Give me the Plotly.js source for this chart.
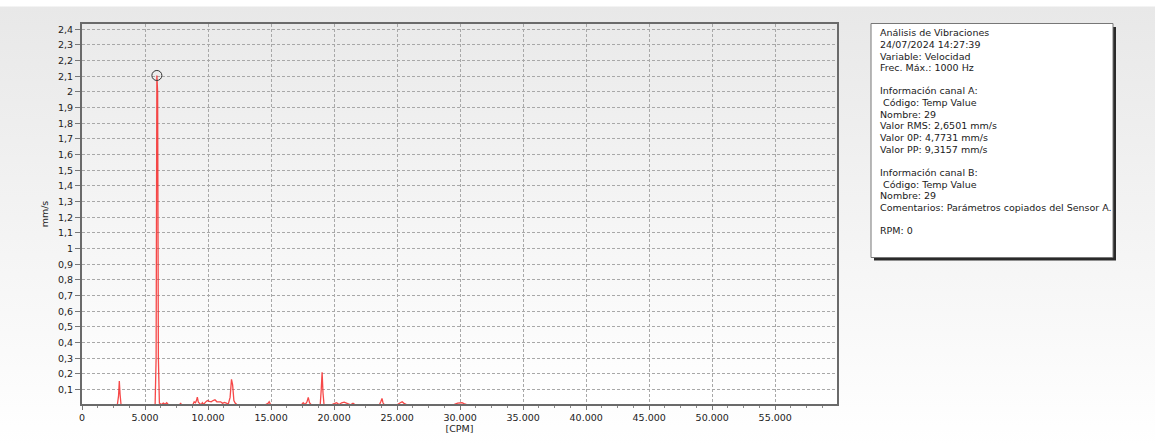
<!DOCTYPE html>
<html>
<head>
<meta charset="utf-8">
<script src="https://cdn.plot.ly/plotly-3.0.1.min.js"></script>
<style>
  html, body { margin:0; padding:0; width:1155px; height:446px; overflow:hidden; }
  body { background: linear-gradient(to bottom, #ffffff 0px, #ffffff 6px, #e8e8e8 7px, #ffffff 446px); position:relative; }
  #plotbg { position:absolute; left:82px; top:24px; width:755px; height:380px;
            background: linear-gradient(to bottom, #eaeaea, #ffffff); }
  #chart { position:absolute; left:0; top:0; width:1155px; height:446px; }
</style>
</head>
<body>
<div id="plotbg"></div>
<div id="chart"></div>
<script>
// ---- data ----
const freqCPM = [
  0, 400, 800, 1200, 1600, 2000, 2400, 2800, 2900, 2960, 3020, 3100, 3400, 3800, 4200, 4600,
  5000, 5400, 5800, 5880, 5940, 6000, 6060, 6140, 6300, 6450, 6600, 6720, 6850, 7000, 7400,
  7750, 7820, 7900, 8200, 8500, 8800, 8900, 9000, 9080, 9150, 9230, 9350, 9450, 9550, 9650,
  9800, 9950, 10100, 10250, 10400, 10550, 10700, 10850, 11000, 11150, 11300, 11450, 11600,
  11750, 11860, 11950, 12050, 12150, 12300, 12500, 13000, 13500, 14000, 14500, 14750, 14850,
  14950, 15200, 15800, 16400, 17000, 17400, 17550, 17700, 17850, 17950, 18050, 18200, 18500,
  18900, 18980, 19050, 19120, 19200, 19400, 19800, 20000, 20200, 20400, 20600, 20800, 21000,
  21300, 21500, 21700, 22200, 22700, 23200, 23600, 23720, 23800, 23880, 24000, 24500, 25000,
  25250, 25400, 25550, 25800, 26500, 27200, 28000, 28800, 29500, 29800, 30000, 30150, 30300,
  30600, 31500, 32500, 33500, 34500, 35500, 36500, 37500, 38500, 39500, 40500, 41500, 42500,
  43500, 44500, 45500, 46500, 47500, 48500, 49500, 50000
];
const velocity = [
  0.0005, 0.001, 0.0005, 0.0005, 0.001, 0.0005, 0.0005, 0.001, 0.06, 0.155, 0.07, 0.001, 0.0005, 0.001, 0.0005, 0.0005,
  0.001, 0.0005, 0.001, 0.3, 2.105, 2.0, 0.3, 0.014, 0.004, 0.014, 0.006, 0.016, 0.004, 0.001, 0.0005,
  0.001, 0.014, 0.001, 0.0005, 0.001, 0.004, 0.022, 0.016, 0.03, 0.052, 0.02, 0.006, 0.002, 0.016, 0.006,
  0.02, 0.03, 0.025, 0.022, 0.03, 0.035, 0.022, 0.02, 0.022, 0.012, 0.018, 0.014, 0.006,
  0.05, 0.165, 0.13, 0.03, 0.014, 0.004, 0.001, 0.0005, 0.001, 0.0005, 0.001, 0.012, 0.022,
  0.006, 0.001, 0.0005, 0.001, 0.0005, 0.002, 0.016, 0.004, 0.022, 0.05, 0.016, 0.002, 0.001,
  0.003, 0.1, 0.21, 0.08, 0.006, 0.002, 0.003, 0.01, 0.016, 0.004, 0.016, 0.02, 0.014,
  0.003, 0.012, 0.002, 0.001, 0.002, 0.001, 0.004, 0.025, 0.043, 0.016, 0.002, 0.001, 0.003,
  0.016, 0.022, 0.012, 0.002, 0.001, 0.002, 0.001, 0.002, 0.004, 0.013, 0.012, 0.016, 0.01,
  0.002, 0.001, 0.002, 0.001, 0.002, 0.001, 0.002, 0.004, 0.001, 0.002, 0.001, 0.003, 0.001,
  0.002, 0.003, 0.002, 0.001, 0.002, 0.001, 0.003, 0.0005
];
const yTickVals = [0.1,0.2,0.3,0.4,0.5,0.6,0.7,0.8,0.9,1,1.1,1.2,1.3,1.4,1.5,1.6,1.7,1.8,1.9,2,2.1,2.2,2.3,2.4];
const yTickText = ["0,1","0,2","0,3","0,4","0,5","0,6","0,7","0,8","0,9","1","1,1","1,2","1,3","1,4","1,5","1,6","1,7","1,8","1,9","2","2,1","2,2","2,3","2,4"];
const xTickVals = [0,5000,10000,15000,20000,25000,30000,35000,40000,45000,50000,55000];
const xTickText = ["0","5.000","10.000","15.000","20.000","25.000","30.000","35.000","40.000","45.000","50.000","55.000"];
const infoLines = [
  "Análisis de Vibraciones",
  "24/07/2024 14:27:39",
  "Variable: Velocidad",
  "Frec. Máx.: 1000 Hz",
  "",
  "Información canal A:",
  "\u00a0Código: Temp Value",
  "Nombre: 29",
  "Valor RMS: 2,6501 mm/s",
  "Valor 0P: 4,7731 mm/s",
  "Valor PP: 9,3157 mm/s",
  "",
  "Información canal B:",
  "\u00a0Código: Temp Value",
  "Nombre: 29",
  "Comentarios: Parámetros copiados del Sensor A.",
  "",
  "RPM: 0"
];

// ---- layout helpers (pixel -> paper) ----
const L = 82, T = 24, PW = 1073, PH = 380;
const px = v => (v - L) / PW;
const py = v => (T + PH - v) / PH;

let peakIdx = 0;
velocity.forEach((v, i) => { if (v > velocity[peakIdx]) peakIdx = i; });

const FONT = "DejaVu Sans";
const FS = 9.5;

const traces = [
  {
    x: freqCPM, y: velocity, type: "scatter", mode: "lines",
    line: { color: "rgba(245,40,40,0.85)", width: 1.3 },
    hoverinfo: "skip", showlegend: false
  },
  {
    x: [freqCPM[peakIdx]], y: [velocity[peakIdx]], type: "scatter", mode: "markers",
    marker: { symbol: "circle-open", size: 10, color: "#333", line: { width: 1, color: "#333" } },
    hoverinfo: "skip", showlegend: false
  }
];

const annotations = [];
infoLines.forEach((t, i) => {
  if (!t) return;
  annotations.push({
    xref: "paper", yref: "paper", x: px(878), y: py(32.7 + i * 11.65),
    xanchor: "left", yanchor: "middle", showarrow: false, align: "left",
    text: t, font: { family: FONT, size: FS, color: "#1a1a1a" }
  });
});

const shapes = [
  { type: "rect", xref: "paper", yref: "paper", x0: px(874), x1: px(1116), y0: py(260.5), y1: py(27),
    fillcolor: "#2a2a2a", line: { width: 0 }, layer: "below" },
  { type: "rect", xref: "paper", yref: "paper", x0: px(871), x1: px(1113), y0: py(257.5), y1: py(23.5),
    fillcolor: "#ffffff", line: { width: 1, color: "#777" }, layer: "below" }
];

const layout = {
  width: 1155, height: 446,
  margin: { l: L, r: 0, t: T, b: 446 - T - PH, pad: 0 },
  paper_bgcolor: "rgba(0,0,0,0)", plot_bgcolor: "rgba(0,0,0,0)",
  font: { family: FONT, size: FS, color: "#222" },
  showlegend: false,
  xaxis: {
    domain: [0, 755 / PW], range: [0, 59900], automargin: false,
    tickmode: "array", tickvals: xTickVals, ticktext: xTickText,
    ticks: "outside", ticklen: 4, tickcolor: "#777", tickwidth: 1,
    minor: { dtick: 1250, tick0: 0, ticks: "outside", ticklen: 2, tickcolor: "#888", showgrid: false },
    showgrid: true, gridcolor: "#a8a8a8", griddash: "3px,2px", gridwidth: 1,
    showline: true, mirror: true, linecolor: "#6a6a6a", linewidth: 2,
    zeroline: false,
    tickfont: { family: FONT, size: FS, color: "#222" },
    title: { text: "[CPM]", standoff: 3, font: { family: FONT, size: FS, color: "#222" } }
  },
  yaxis: {
    range: [0.008, 2.4335], automargin: false,
    tickmode: "array", tickvals: yTickVals, ticktext: yTickText,
    ticks: "outside", ticklen: 5, tickcolor: "#777", tickwidth: 1,
    showgrid: true, gridcolor: "#a8a8a8", griddash: "3px,2px", gridwidth: 1,
    showline: true, mirror: true, linecolor: "#6a6a6a", linewidth: 2,
    zeroline: false,
    tickfont: { family: FONT, size: FS, color: "#222" },
    title: { text: "mm/s", standoff: 8, font: { family: FONT, size: FS, color: "#222" } }
  },
  shapes: shapes,
  annotations: annotations
};

Plotly.newPlot("chart", traces, layout, { displayModeBar: false, staticPlot: true });
</script>
</body>
</html>
